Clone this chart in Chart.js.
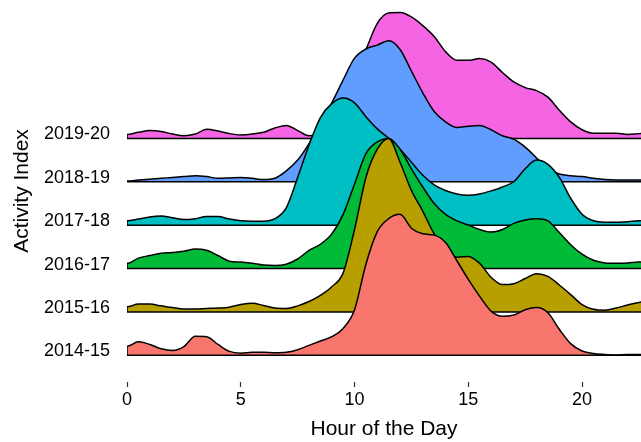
<!DOCTYPE html>
<html><head><meta charset="utf-8">
<script src="https://cdn.jsdelivr.net/npm/chart.js@4"></script>
<style>html,body{margin:0;padding:0;background:#fff}#wrap{width:641px;height:442px}</style>
</head><body><div id="wrap"><canvas id="c" width="641" height="442"></canvas></div>
<script>
const categories = ['2014-15','2015-16','2016-17','2017-18','2018-19','2019-20'];
const hours = [0,0.5,1,1.5,2,2.5,3,3.5,4,4.5,5,5.5,6,6.5,7,7.5,8,8.5,9,9.5,10,10.5,11,11.5,12,12.5,13,13.5,14,14.5,15,15.5,16,16.5,17,17.5,18,18.5,19,19.5,20,20.5,21,21.5,22,22.5,23];
const xTicks = [0,5,10,15,20];

const d201415 = [0.21,0.31,0.25,0.15,0.11,0.2,0.44,0.43,0.25,0.09,0.05,0.07,0.07,0.06,0.07,0.13,0.23,0.33,0.43,0.62,1.05,2.1,2.85,3.15,3.25,2.93,2.8,2.77,2.6,2.18,1.75,1.36,1.02,0.9,0.93,1.05,1.1,0.98,0.6,0.27,0.1,0.04,0.02,0.01,0.02,0.02,0.02];
const d201516 = [0.12,0.18,0.18,0.14,0.1,0.07,0.07,0.08,0.09,0.11,0.17,0.2,0.15,0.09,0.08,0.14,0.24,0.38,0.58,0.9,1.9,3.1,3.75,4.0,3.45,2.8,2.32,1.8,1.45,1.26,1.28,1.12,0.8,0.63,0.65,0.77,0.88,0.82,0.62,0.4,0.17,0.06,0.04,0.09,0.16,0.22,0.25];
const d201617 = [0.12,0.24,0.3,0.35,0.37,0.4,0.45,0.42,0.3,0.17,0.15,0.12,0.08,0.07,0.1,0.22,0.42,0.56,0.8,1.25,1.95,2.65,2.92,3.0,2.75,2.3,1.88,1.5,1.25,1.1,1.0,0.9,0.84,0.9,1.04,1.12,1.15,1.1,0.83,0.55,0.33,0.19,0.13,0.12,0.13,0.15,0.15];
const d201718 = [0.1,0.14,0.19,0.21,0.17,0.13,0.15,0.2,0.2,0.14,0.1,0.09,0.09,0.15,0.4,1.1,1.85,2.48,2.8,2.93,2.82,2.5,2.22,2.0,1.75,1.45,1.15,0.93,0.8,0.72,0.69,0.72,0.79,0.88,1.0,1.3,1.5,1.4,1.1,0.62,0.25,0.1,0.07,0.07,0.08,0.1,0.1];
const d201819 = [0.02,0.04,0.06,0.08,0.1,0.12,0.14,0.12,0.08,0.09,0.1,0.08,0.05,0.08,0.25,0.5,0.88,1.35,1.82,2.35,2.85,3.06,3.15,3.25,3.05,2.55,2.05,1.62,1.38,1.25,1.28,1.3,1.2,1.06,0.98,0.8,0.55,0.3,0.18,0.14,0.12,0.08,0.05,0.04,0.04,0.04,0.04];
const d201920 = [0.09,0.14,0.18,0.16,0.1,0.06,0.1,0.21,0.17,0.11,0.08,0.1,0.14,0.24,0.3,0.18,0.06,0.15,0.45,0.95,1.5,2.05,2.65,2.89,2.9,2.8,2.6,2.35,2.0,1.8,1.8,1.84,1.76,1.52,1.3,1.17,1.1,0.95,0.65,0.38,0.2,0.12,0.12,0.12,0.09,0.11,0.12];

const seriesValues = [d201415, d201516, d201617, d201718, d201819, d201920];
const fillColors = ['#F8766D','#B79F00','#00BA38','#00BFC4','#619CFF','#F564E3'];

Chart.defaults.font.family = "'Liberation Sans', Arial, Helvetica, sans-serif";
Chart.defaults.color = '#000';

const datasets = [];
seriesValues.forEach((vals, i) => {
  datasets.push({
    label: categories[i],
    data: [{x: hours[0], y: i}].concat(hours.map((h, k) => ({x: h, y: i + vals[k]}))),
    fill: {value: i},
    backgroundColor: fillColors[i],
    borderColor: '#000',
    borderWidth: 1.5,
    pointRadius: 0,
    cubicInterpolationMode: 'monotone',
    order: 2 * i + 1
  });
  datasets.push({
    label: categories[i] + ' base',
    data: [{x: hours[0], y: i}, {x: hours[hours.length - 1], y: i}],
    fill: false,
    borderColor: '#000',
    borderWidth: 1.5,
    pointRadius: 0,
    order: 2 * i
  });
});

new Chart(document.getElementById('c'), {
  type: 'line',
  data: {datasets},
  options: {
    responsive: false,
    devicePixelRatio: 1,
    animation: false,
    layout: {padding: 0},
    plugins: {legend: {display: false}, tooltip: {enabled: false}},
    scales: {
      x: {
        type: 'linear', min: 0, max: 22.59,
        afterBuildTicks: s => { s.ticks = xTicks.map(v => ({value: v})); },
        afterFit: s => { s.height = 60; s.paddingLeft = 0; s.paddingRight = 0; },
        ticks: {color: '#000', font: {size: 18}, padding: 2, maxRotation: 0, autoSkip: false},
        grid: {display: true, drawOnChartArea: false, drawTicks: true, tickLength: 5, tickColor: '#333', tickWidth: 1.2},
        border: {display: false},
        title: {display: true, text: 'Hour of the Day', color: '#000', font: {size: 21}, padding: {top: 0, bottom: 0}}
      },
      y: {
        type: 'linear', min: -0.615, max: 8.19,
        afterBuildTicks: s => { s.ticks = categories.map((c, i) => ({value: i})); },
        afterFit: s => { s.width = 127; s.paddingTop = 0; s.paddingBottom = 0; },
        ticks: {color: '#000', font: {size: 18}, padding: 17, labelOffset: -4, callback: v => categories[v]},
        grid: {display: false, drawTicks: false},
        border: {display: false},
        title: {display: true, text: 'Activity Index', color: '#000', font: {size: 21}, padding: {top: 10, bottom: 0}}
      }
    }
  }
});
</script>
</body></html>
